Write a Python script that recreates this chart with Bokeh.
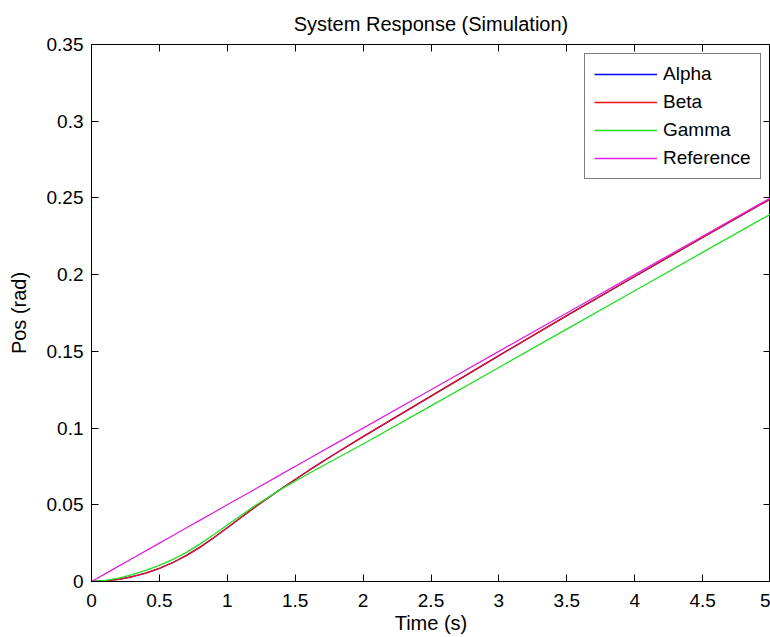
from bokeh.plotting import figure
from bokeh.models import Range1d, LinearAxis, FixedTicker, CustomJSTickFormatter
from bokeh.embed import file_html
from bokeh.resources import INLINE

# ---- data ----
time = [0, 0.1, 0.2, 0.3, 0.4, 0.5, 0.6, 0.7, 0.8, 0.9, 1.0,
        1.2, 1.4, 1.6, 1.8, 2.0, 2.5, 3.0, 3.5, 4.0, 4.5, 5.0]
alpha = [0, 0.0004, 0.0014, 0.0031, 0.0055, 0.0086, 0.0124, 0.017, 0.0224, 0.0285, 0.035,
         0.0482, 0.0606, 0.0724, 0.0836, 0.0944, 0.1208, 0.1472, 0.1733, 0.1988, 0.2242, 0.2494]
beta = [0, 0.0004, 0.0014, 0.0031, 0.0055, 0.0086, 0.0124, 0.017, 0.0224, 0.0285, 0.035,
        0.0482, 0.0606, 0.0724, 0.0836, 0.0944, 0.1208, 0.1472, 0.1733, 0.1988, 0.2242, 0.2494]
gamma = [0, 0.0008, 0.0022, 0.0045, 0.0072, 0.0105, 0.0144, 0.019, 0.0245, 0.0305, 0.0368,
         0.0492, 0.0604, 0.0704, 0.080, 0.0896, 0.1145, 0.1395, 0.1645, 0.1895, 0.2145, 0.2394]
reference = [0, 0.005, 0.01, 0.015, 0.02, 0.025, 0.03, 0.035, 0.04, 0.045, 0.05,
             0.06, 0.07, 0.08, 0.09, 0.10, 0.125, 0.15, 0.175, 0.20, 0.225, 0.25]

x_ticks = [0, 0.5, 1, 1.5, 2, 2.5, 3, 3.5, 4, 4.5, 5]
y_ticks = [0, 0.05, 0.1, 0.15, 0.2, 0.25, 0.3, 0.35]

series_names = ["Alpha", "Beta", "Gamma", "Reference"]
series_colors = ["#0000ff", "#ee1111", "#22dd22", "#dd22dd"]

FONT = "Liberation Sans"

p = figure(width=770, height=637,
           x_range=Range1d(0, 5), y_range=Range1d(0, 0.35),
           output_backend="svg", toolbar_location=None,
           min_border_left=91, min_border_right=0,
           min_border_top=44, min_border_bottom=56,
           background_fill_color="white", border_fill_color="white")

p.title.text = "System Response (Simulation)"
p.title.align = "center"
p.title.text_font = FONT
p.title.text_font_size = "20px"
p.title.text_font_style = "normal"
p.title.text_color = "black"
p.title.standoff = 20

for name, vals, col in zip(series_names, [alpha, beta, gamma, reference], series_colors):
    p.line(time, vals, line_color=col, line_width=1.3, legend_label=name)

p.grid.visible = False
p.outline_line_color = "black"
p.outline_line_width = 1

fmt_code = "return String(parseFloat(tick.toFixed(4)));"

top_axis = LinearAxis()
right_axis = LinearAxis()
p.add_layout(top_axis, "above")
p.add_layout(right_axis, "right")

for ax in p.xaxis:
    ax.ticker = FixedTicker(ticks=x_ticks)
for ax in p.yaxis:
    ax.ticker = FixedTicker(ticks=y_ticks)

for ax in p.xaxis + p.yaxis:
    ax.axis_line_color = "black"
    ax.major_tick_line_color = "black"
    ax.major_tick_in = 7
    ax.major_tick_out = 0
    ax.minor_tick_line_color = None
    ax.major_label_text_font = FONT
    ax.major_label_text_font_size = "19px"
    ax.major_label_text_color = "black"
    ax.axis_label_text_font = FONT
    ax.axis_label_text_font_size = "20px"
    ax.axis_label_text_font_style = "normal"
    ax.axis_label_text_color = "black"

for ax in [top_axis, right_axis]:
    ax.formatter = CustomJSTickFormatter(code="return '';")
    ax.major_label_standoff = 0
    ax.major_label_text_font_size = "1px"

bottom_axis = p.xaxis[0] if p.xaxis[0] is not top_axis else p.xaxis[1]
left_axis = p.yaxis[0] if p.yaxis[0] is not right_axis else p.yaxis[1]
bottom_axis.formatter = CustomJSTickFormatter(code=fmt_code)
left_axis.formatter = CustomJSTickFormatter(code=fmt_code)
bottom_axis.axis_label = "Time (s)"
left_axis.axis_label = "Pos (rad)"
bottom_axis.major_label_standoff = 12
bottom_axis.axis_label_standoff = 2
left_axis.major_label_standoff = 8
left_axis.axis_label_standoff = 14

lg = p.legend[0]
lg.location = (493, 402)
lg.border_line_color = "black"
lg.border_line_width = 1
lg.background_fill_color = "white"
lg.background_fill_alpha = 1
lg.label_text_font = FONT
lg.label_text_font_size = "19px"
lg.label_text_color = "black"
lg.glyph_width = 63
lg.glyph_height = 20
lg.label_height = 20
lg.label_standoff = 6
lg.spacing = 6
lg.padding = 9
lg.margin = 0

open("out.html", "w").write(file_html(p, INLINE))
